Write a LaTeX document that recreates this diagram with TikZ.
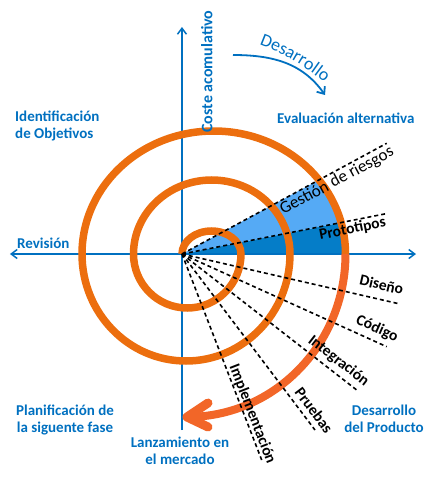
\documentclass[tikz,border=0pt]{standalone}
\usepackage{fontspec}
\setmainfont{Carlito}
\usetikzlibrary{arrows.meta,decorations.text}
\definecolor{spiralorange}{RGB}{236,110,14}
\definecolor{arroworange}{RGB}{242,102,40}
\definecolor{axisblue}{RGB}{0,112,192}
\definecolor{lightwedge}{RGB}{85,170,245}
\definecolor{darkwedge}{RGB}{5,125,200}
\begin{document}
\begin{tikzpicture}[x=1pt,y=1pt,
  axis/.style={axisblue, line width=1.5pt},
  spiral/.style={spiralorange, line width=7.5pt},
  finalarc/.style={arroworange, line width=8pt},
  guide/.style={black, line width=1.6pt, dash pattern=on 4pt off 3pt},
  bluelabel/.style={text=axisblue, font=\fontsize{15}{17}\selectfont\bfseries, inner sep=0pt},
  blacklabel/.style={font=\fontsize{15.5}{18}\selectfont\bfseries, inner sep=0pt},
]
\useasboundingbox (-182,-226) rectangle (254,254);
\coordinate (O) at (0,0);
\coordinate (top) at (0,227);
\coordinate (bottom) at (0,-176);
\coordinate (left) at (-172,0);
\coordinate (right) at (234,0);
% wedges
\begin{scope}
\clip (31.75,0) ellipse [x radius=131.75, y radius=123];
\fill[darkwedge] (O) -- (0:250) -- (11.2:250) -- cycle;
\fill[lightwedge] (O) -- (11.2:250) -- (28.4:250) -- cycle;
\end{scope}
% axes
\draw[axis, -{Straight Barb[length=6pt,width=9pt]}] (bottom) -- (top);
\draw[axis, {Straight Barb[length=6pt,width=9pt]}-{Straight Barb[length=6pt,width=9pt]}] (left) -- (right);
% spiral
\draw[spiral] (O) arc[start angle=180, end angle=0, x radius=29.5, y radius=23]
  arc[start angle=0, end angle=-180, x radius=53.75, y radius=54]
  arc[start angle=180, end angle=0, x radius=78.25, y radius=74]
  arc[start angle=0, end angle=-180, x radius=104, y radius=107]
  arc[start angle=180, end angle=0, x radius=131.75, y radius=123] coordinate (s5);
\coordinate (tip) at (5,-163);
\coordinate (armA) at (26,-149);
\coordinate (armB) at (26,-173);
\draw[finalarc] (s5) arc[start angle=0, end angle=-90, x radius=158.5, y radius=163];
\draw[arroworange, line width=9pt, line cap=round, line join=round] (armA) -- (tip) -- (armB);
% dashed guides
\coordinate (gEnd) at (204.7,110.7);
\coordinate (pEnd) at (206,40.7);
\coordinate (dEnd) at (218,-50);
\coordinate (cEnd) at (204.7,-92.7);
\coordinate (iEnd) at (174.7,-136);
\coordinate (prEnd) at (133,-176);
\coordinate (imEnd) at (79.7,-206);
\foreach \e in {gEnd,pEnd,dEnd,cEnd,iEnd,prEnd,imEnd} \draw[guide] (O) -- (\e);
% black labels
\node[font=\fontsize{17}{20}\selectfont, rotate=28.4, inner sep=0pt] (gestion) at (155,73) {Gestión de riesgos};
\node[blacklabel, rotate=11.2] (proto) at (170.6,25) {Prototipos};
\node[blacklabel, rotate=-12.9] (diseno) at (199.6,-30.6) {Diseño};
\node[blacklabel, rotate=-24.4] (codigo) at (195,-74.7) {Código};
\node[blacklabel, rotate=-37.9] (integ) at (156.5,-107) {Integración};
\node[blacklabel, rotate=-52.9] (pruebas) at (132,-156.5) {Pruebas};
\node[blacklabel, rotate=-68.7] (implem) at (70.3,-160.1) {Implementación};
% blue labels
\node[bluelabel, font=\fontsize{16}{18}\selectfont\bfseries, rotate=90] (coste) at (24.7,182.5) {Coste acomulativo};
\node[bluelabel, align=left, anchor=north west] (ident) at (-167,143) {Identificación\\de Objetivos};
\node[bluelabel, anchor=base west] (eval) at (95,131) {Evaluación alternativa};
\node[bluelabel, anchor=base west] (revision) at (-165,6) {Revisión};
\node[bluelabel, align=center, anchor=north] (planif) at (-117,-151) {Planificación de\\la siguente fase};
\node[bluelabel, align=center, anchor=north] (lanz) at (-2,-183) {Lanzamiento en\\el mercado};
\node[bluelabel, align=center, anchor=north] (desprod) at (202,-151) {Desarrollo\\del Producto};
% Desarrollo curved
\path[decorate, decoration={text along path, text align=center,
  text={|\fontsize{18}{20}\selectfont\color{axisblue}|Desarrollo}}]
  (73:223) arc[start angle=73, end angle=47, radius=223];
\coordinate (dA) at (51,199);
\coordinate (dB) at (143,159);
\draw[axis, line width=1.8pt, -{Straight Barb[length=6pt,width=10pt]}] (dA) to[out=0, in=125] (dB);
\end{tikzpicture}
\end{document}
